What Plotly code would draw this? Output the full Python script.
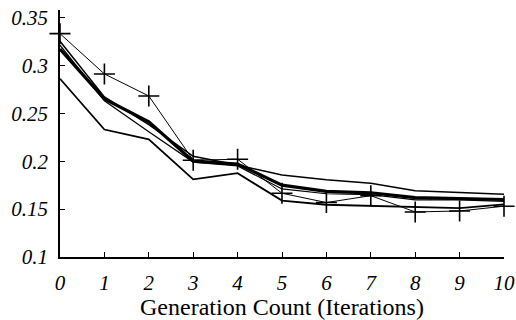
import plotly.graph_objects as go
import plotly.io as pio

pio.templates.default = "none"

iterations = list(range(11))
tick_labels_x = [str(i) for i in iterations]
tick_vals_y = [0.1, 0.15, 0.2, 0.25, 0.3, 0.35]
tick_labels_y = ["0.1", "0.15", "0.2", "0.25", "0.3", "0.35"]

series_cross = [0.333, 0.291, 0.268, 0.201, 0.202, 0.1665, 0.1568, 0.164, 0.147, 0.148, 0.153]
series_mean = [0.317, 0.265, 0.241, 0.200, 0.197, 0.175, 0.1685, 0.167, 0.162, 0.161, 0.160]
series_top = [0.325, 0.267, 0.238, 0.205, 0.196, 0.1855, 0.1805, 0.177, 0.169, 0.1676, 0.1655]
series_mid = [0.321, 0.263, 0.2306, 0.199, 0.195, 0.171, 0.166, 0.165, 0.1596, 0.1596, 0.158]
series_low = [0.286, 0.233, 0.2227, 0.181, 0.1874, 0.1588, 0.1545, 0.1535, 0.1526, 0.151, 0.155]

font_family = "Liberation Serif"
tick_font = dict(family=font_family, size=21, color="black", style="italic")

fig = go.Figure(layout=go.Layout(template="none"))

def add_line(y, width):
    fig.add_trace(go.Scatter(x=iterations, y=y, mode="lines",
                             line=dict(color="black", width=width),
                             showlegend=False, hoverinfo="skip"))

add_line(series_top, 1.5)
add_line(series_mid, 1.2)
add_line(series_low, 1.8)
add_line(series_mean, 3.2)
fig.add_trace(go.Scatter(x=iterations, y=series_cross, mode="lines+markers",
                         line=dict(color="black", width=1),
                         marker=dict(symbol="cross-thin", size=15,
                                     line=dict(color="black", width=1.6)),
                         showlegend=False, hoverinfo="skip", cliponaxis=False))

fig.update_layout(
    template="none",
    width=516, height=320,
    margin=dict(l=60, r=12, t=10, b=63),
    paper_bgcolor="white", plot_bgcolor="white",
    font=dict(family=font_family, color="black", size=21),
)
fig.update_xaxes(
    range=[0, 10], tickvals=iterations, ticktext=tick_labels_x,
    ticks="inside", ticklen=5, tickwidth=1, tickcolor="black",
    showline=True, linecolor="black", linewidth=1.5,
    showgrid=False, zeroline=False,
    tickfont=tick_font,
    title_text="Generation Count (Iterations)",
    title_font=dict(family=font_family, size=24, color="black"),
    title_standoff=0,
    ticklabelstandoff=6,
)
fig.update_yaxes(
    range=[0.1, 0.3577], tickvals=tick_vals_y, ticktext=tick_labels_y,
    ticks="inside", ticklen=5, tickwidth=1, tickcolor="black",
    showline=True, linecolor="black", linewidth=1.5,
    showgrid=False, zeroline=False,
    tickfont=tick_font,
    ticklabelstandoff=6,
)

fig.write_html("out.html")
